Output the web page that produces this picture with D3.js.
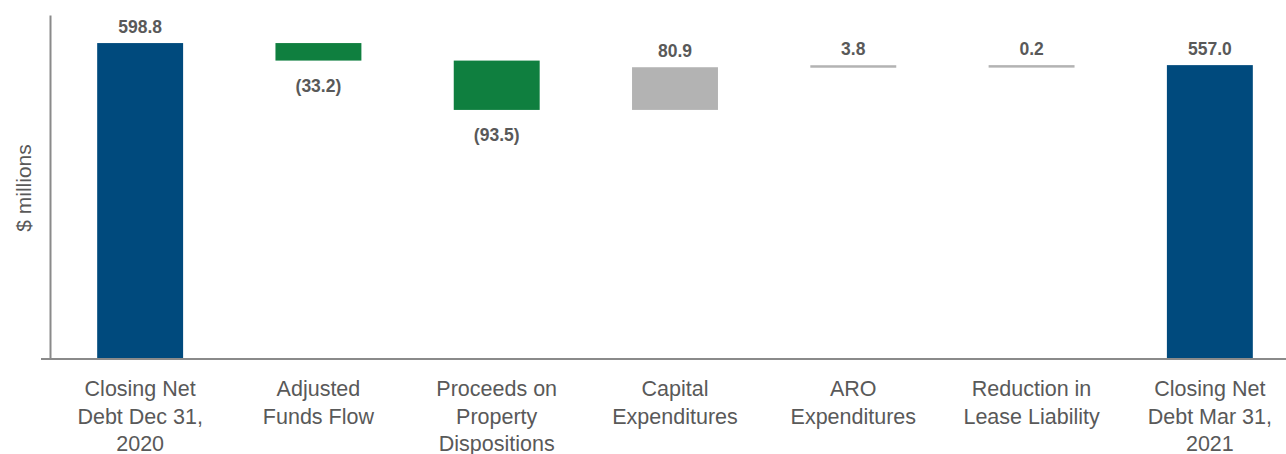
<!DOCTYPE html>
<html><head><meta charset="utf-8">
<script src="https://cdn.jsdelivr.net/npm/d3@7"></script>
<style>body{margin:0;background:#fff}svg{display:block}</style>
</head><body>
<svg id="c" width="1286" height="454"></svg>
<script>
const categories = ["Closing Net Debt Dec 31, 2020","Adjusted Funds Flow","Proceeds on Property Dispositions","Capital Expenditures","ARO Expenditures","Reduction in Lease Liability","Closing Net Debt Mar 31, 2021"];
const categoryLines = [["Closing Net","Debt Dec 31,","2020"],["Adjusted","Funds Flow"],["Proceeds on","Property","Dispositions"],["Capital","Expenditures"],["ARO","Expenditures"],["Reduction in","Lease Liability"],["Closing Net","Debt Mar 31,","2021"]];
const values = [598.8, -33.2, -93.5, 80.9, 3.8, 0.2, 557.0];
const kinds = ["total","delta","delta","delta","delta","delta","total"];
const yLabel = "$ millions";

const colors = {total:"#004a7d", down:"#0f7f3f", up:"#b3b3b3"};
const textColor = "#595959";
const svg = d3.select("#c");

const x = d3.scaleBand().domain(categories).range([51, 1299]).paddingInner(0.518).paddingOuter(0.259);
const y = d3.scaleLinear().domain([0, 652]).range([359, 15]);

let running = 0;
const bars = categories.map((c,i)=>{
  let y0, y1;
  if (kinds[i]==="total"){ y0=0; y1=values[i]; running=values[i]; }
  else { y0=running; y1=running+values[i]; running=y1; }
  return {c, v:values[i], kind:kinds[i], lo:Math.min(y0,y1), hi:Math.max(y0,y1)};
});

const fmt = v => v<0 ? "(" + d3.format(".1f")(-v) + ")" : d3.format(".1f")(v);

svg.selectAll("rect.bar").data(bars).join("rect")
  .attr("x", d=>x(d.c)).attr("width", x.bandwidth())
  .attr("y", d=>y(d.hi)).attr("height", d=>Math.max(2.5, y(d.lo)-y(d.hi)))
  .attr("fill", d=>d.kind==="total"?colors.total:(d.v<0?colors.down:colors.up));

svg.selectAll("text.val").data(bars).join("text")
  .attr("x", d=>x(d.c)+x.bandwidth()/2)
  .attr("y", d=>d.v<0 ? y(d.lo)+31 : y(d.hi)-10)
  .attr("text-anchor","middle")
  .attr("font-family","Liberation Sans, Arial, sans-serif")
  .attr("font-weight","bold").attr("font-size","17.5px").attr("fill",textColor)
  .text(d=>fmt(d.v));

const xAxis = d3.axisBottom(x).tickSize(0).tickFormat("");
svg.append("g").attr("transform","translate(0,359)").call(xAxis)
  .call(g=>g.select(".domain").attr("d","M41,0H1286").attr("stroke","#8a8a8a").attr("stroke-width",2));
const yAxis = d3.axisLeft(y).tickValues([]).tickSizeOuter(0);
svg.append("g").attr("transform","translate(50,0)").call(yAxis)
  .call(g=>g.select(".domain").attr("stroke","#8a8a8a").attr("stroke-width",2));

const lab = svg.selectAll("g.cat").data(categories).join("g")
  .attr("transform",(c)=>`translate(${x(c)+x.bandwidth()/2},396)`);
lab.each(function(c,i){
  d3.select(this).selectAll("text").data(categoryLines[i]).join("text")
    .attr("y",(d,j)=>j*27.5).attr("text-anchor","middle")
    .attr("font-family","Liberation Sans, Arial, sans-serif").attr("font-size","21.5px")
    .attr("fill",textColor).text(d=>d);
});

svg.append("text").attr("transform","translate(31,188) rotate(-90)")
  .attr("text-anchor","middle").attr("font-family","Liberation Sans, Arial, sans-serif")
  .attr("font-size","21px").attr("fill",textColor).text(yLabel);
</script>
</body></html>
